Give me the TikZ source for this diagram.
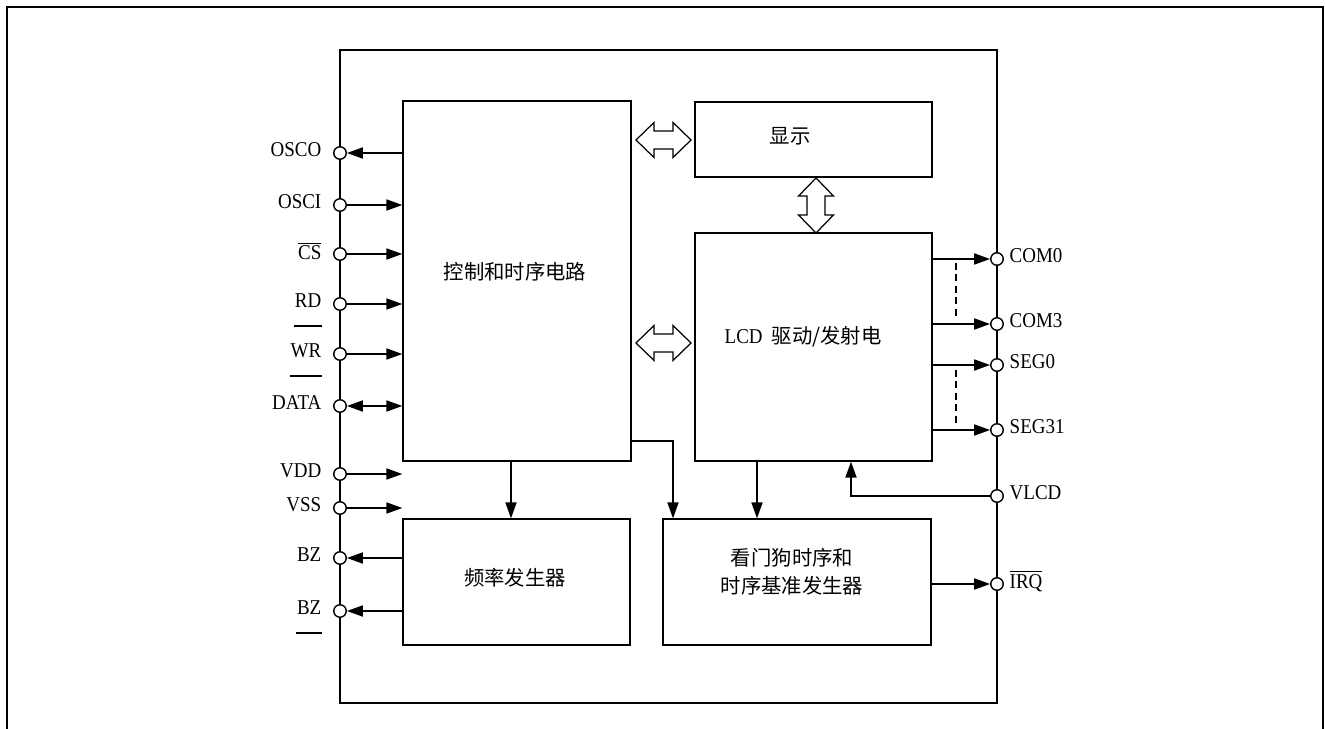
\documentclass[tikz,border=0pt]{standalone}
\usepackage{fontspec}
\setmainfont{Liberation Serif}[FakeStretch=0.9]
\newfontfamily\cjk{Noto Sans CJK SC}
\usetikzlibrary{arrows.meta,positioning}
\newcommand{\pxu}{0.02cm}
\newcommand{\ovl}[1]{$\overline{\mbox{#1}}$}
\newcommand{\bigarrow}[2]{%
  \draw[blk, shift={#1}, rotate=#2] (-27.5,0) -- (-9.5,-17.5) -- (-9.5,-9) -- (9.5,-9)
    -- (9.5,-17.5) -- (27.5,0) -- (9.5,17.5) -- (9.5,9) -- (-9.5,9) -- (-9.5,17.5) -- cycle;}

\begin{document}
\begin{tikzpicture}[x=\pxu, y=-\pxu, line width=0.8pt,
    box/.style={draw, rectangle, inner sep=0pt},
    pin/.style={draw, circle, fill=white, minimum size=0.25cm, inner sep=0pt},
    pinlabel/.style={inner sep=0pt, font=\fontsize{12}{14}\selectfont},
    cn/.style={font=\cjk\fontsize{11.6}{16}\selectfont, align=center, inner sep=0pt},
    arr/.style={-{Triangle[length=9pt,width=6.3pt]}},
    dblarr/.style={{Triangle[length=9pt,width=6.3pt]}-{Triangle[length=9pt,width=6.3pt]}},
    blk/.style={line width=0.7pt, line join=miter}]
        %\draw[help lines] (0,0) grid[step=50] (1325,729);
        \useasboundingbox (0,0) rectangle (1325,729);
        \draw[line width=1.4pt] (7,729) -- (7,7) -- (1323,7) -- (1323,729);

        % chip and blocks
        \node[box, line width=1.1pt, minimum width=657*\pxu, minimum height=653*\pxu] (chip) at (668.5,376.5) {};
        \node[box, minimum width=228*\pxu, minimum height=360*\pxu] (ctrl) at (517,281) {};
        \node[box, minimum width=237*\pxu, minimum height=75*\pxu] (disp) at (813.5,139.5) {};
        \node[box, minimum width=237*\pxu, minimum height=228*\pxu] (lcd) at (813.5,347) {};
        \node[box, minimum width=227*\pxu, minimum height=126*\pxu] (freq) at (516.5,582) {};
        \node[box, minimum width=268*\pxu, minimum height=126*\pxu] (wdt) at (797,582) {};

        \node[cn] (ctrl-t) at (515,272) {控制和时序电路};
        \node[cn] (disp-t) at (790,136) {显示};
        \node[cn, anchor=west] (lcd-t) at (724,337) {{\rmfamily\fontsize{12}{14}\selectfont LCD}\hspace{0.45em}驱动/发射电};
        \node[cn] (freq-t) at (515,578) {频率发生器};
        \node[cn] (wdt-t) at (792,572) {看门狗时序和\\时序基准发生器};

        \bigarrow{(663.5,140)}{0}
        \bigarrow{(663.5,343)}{0}
        \bigarrow{(816,205.5)}{90}

        % pins
        \foreach \n/\y/\t in {OSCO/153/OSCO, OSCI/205/OSCI, CS/254/{\ovl{CS}}, RD/304/RD,
                              WR/354/WR, DATA/406/DATA, VDD/474/VDD, VSS/508/VSS,
                              BZa/558/BZ, BZb/611/BZ}{
            \node[pin] (\n) at (340,\y) {};
            \node[pinlabel, anchor=east] (l\n) at ([xshift=-0.36cm,yshift=0.06cm]\n.center) {\t};
        }
        \foreach \n/\y/\t in {COM0/259/COM0, COM3/324/COM3, SEG0/365/SEG0, SEG31/430/SEG31,
                              VLCD/496/VLCD, IRQ/584/{\ovl{IRQ}}}{
            \node[pin] (\n) at (997,\y) {};
            \node[pinlabel, anchor=west] (l\n) at ([xshift=0.24cm,yshift=0.06cm]\n.center) {\t};
        }
        \foreach \n in {RD,WR,BZb}
            \draw[line width=0.7pt] ([yshift=-0.5cm]l\n.west) -- ([yshift=-0.5cm]l\n.east);

        % connections
        \draw[arr] (ctrl.west |- OSCO) -- (OSCO);
        \foreach \n in {OSCI,CS,RD,WR,VDD,VSS}
            \draw[arr] (\n) -- (ctrl.west |- \n);
        \draw[dblarr] (DATA) -- (ctrl.west |- DATA);
        \foreach \n in {BZa,BZb}
            \draw[arr] (freq.west |- \n) -- (\n);
        \foreach \n in {COM0,COM3,SEG0,SEG31}
            \draw[arr] (lcd.east |- \n) -- (\n);
        \draw[dashed, dash pattern=on 4pt off 2.5pt, line width=0.6pt] (956,263) -- (956,319);
        \draw[dashed, dash pattern=on 4pt off 2.5pt, line width=0.6pt] (956,370) -- (956,425);
        \draw[arr] (wdt.east |- IRQ) -- (IRQ);
        \draw[arr] (VLCD) -| (lcd.south -| 851,0);
        \draw[arr] (ctrl.south -| 511,0) -- (freq.north -| 511,0);
        \draw[arr] (ctrl.east |- 0,441) -| (wdt.north -| 673,0);
        \draw[arr] (lcd.south -| 757,0) -- (wdt.north -| 757,0);
\end{tikzpicture}
\end{document}
